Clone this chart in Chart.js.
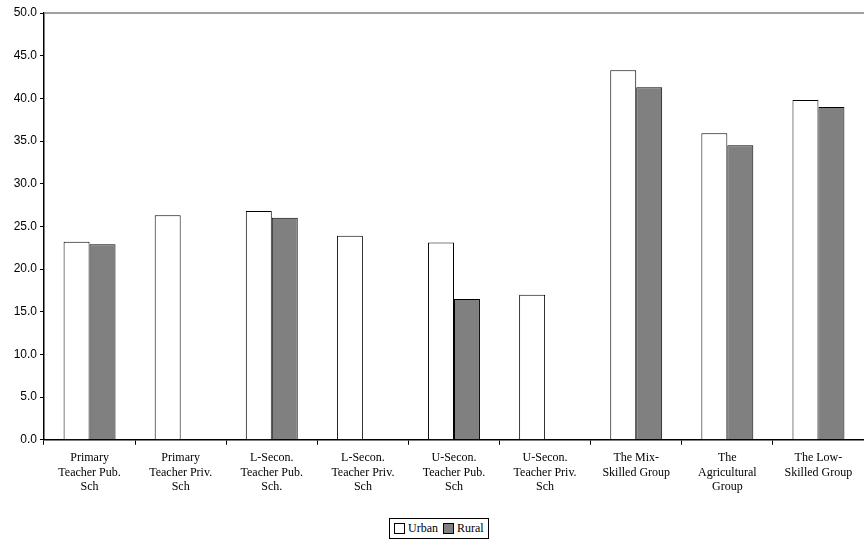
<!DOCTYPE html>
<html><head><meta charset="utf-8">
<script src="https://cdn.jsdelivr.net/npm/chart.js@4/dist/chart.umd.min.js"></script>
<style>
body{margin:0;background:#fff;width:864px;height:541px;overflow:hidden;position:relative}
#wrap{position:absolute;left:0;top:0;width:864px;height:500px}
#leg{position:absolute;left:389px;top:518px;border:1px solid #000;padding:2px 4px;font:12px "Liberation Serif";display:flex;align-items:center;gap:2px;color:#000}
.sw{display:inline-block;width:9px;height:9px;border:1px solid #000;margin-right:1px}
</style></head><body>
<div id="wrap"><canvas id="c"></canvas></div>
<div id="leg"><span class="sw" style="background:#fff"></span>Urban&nbsp;<span class="sw" style="background:#808080"></span>Rural</div>
<script>
const categories=[["Primary","Teacher Pub.","Sch"],["Primary","Teacher Priv.","Sch"],["L-Secon.","Teacher Pub.","Sch."],["L-Secon.","Teacher Priv.","Sch"],["U-Secon.","Teacher Pub.","Sch"],["U-Secon.","Teacher Priv.","Sch"],["The Mix-","Skilled Group"],["The","Agricultural","Group"],["The Low-","Skilled Group"]];
const urban=[23.2,26.3,26.8,23.9,23.1,17.0,43.3,35.9,39.8];
const rural=[22.9,null,26.0,null,16.5,null,41.3,34.5,39.0];
const topLine={id:'topLine',afterDraw(ch){const a=ch.chartArea,x=ch.ctx;x.save();x.strokeStyle='#808080';x.lineWidth=1.5;x.beginPath();x.moveTo(a.left,a.top);x.lineTo(a.right,a.top);x.stroke();x.restore();}};
new Chart(document.getElementById('c'),{type:'bar',
data:{labels:categories,datasets:[
{label:'Urban',data:urban,backgroundColor:'#fff',borderColor:'#000',borderWidth:1,barPercentage:1,categoryPercentage:0.57},
{label:'Rural',data:rural,backgroundColor:'#808080',borderColor:'#000',borderWidth:1,barPercentage:1,categoryPercentage:0.57}]},
options:{responsive:true,maintainAspectRatio:false,animation:false,
layout:{padding:{top:13,right:0,left:0,bottom:0}},
plugins:{legend:{display:false},tooltip:{enabled:false}},
scales:{
x:{grid:{drawOnChartArea:false,offset:true,color:'#000',tickLength:5},border:{color:'#000',width:1.5},
ticks:{color:'#000',font:{family:'Liberation Serif',size:12},maxRotation:0,autoSkip:false,padding:6}},
y:{min:0,max:50,afterFit(s){s.width=44;},grid:{drawOnChartArea:false,color:'#000',tickLength:4},border:{color:'#000',width:1.5},
ticks:{stepSize:5,color:'#000',font:{family:'Liberation Sans',size:12},callback:v=>v.toFixed(1),padding:3}}}},
plugins:[topLine]});
</script></body></html>
